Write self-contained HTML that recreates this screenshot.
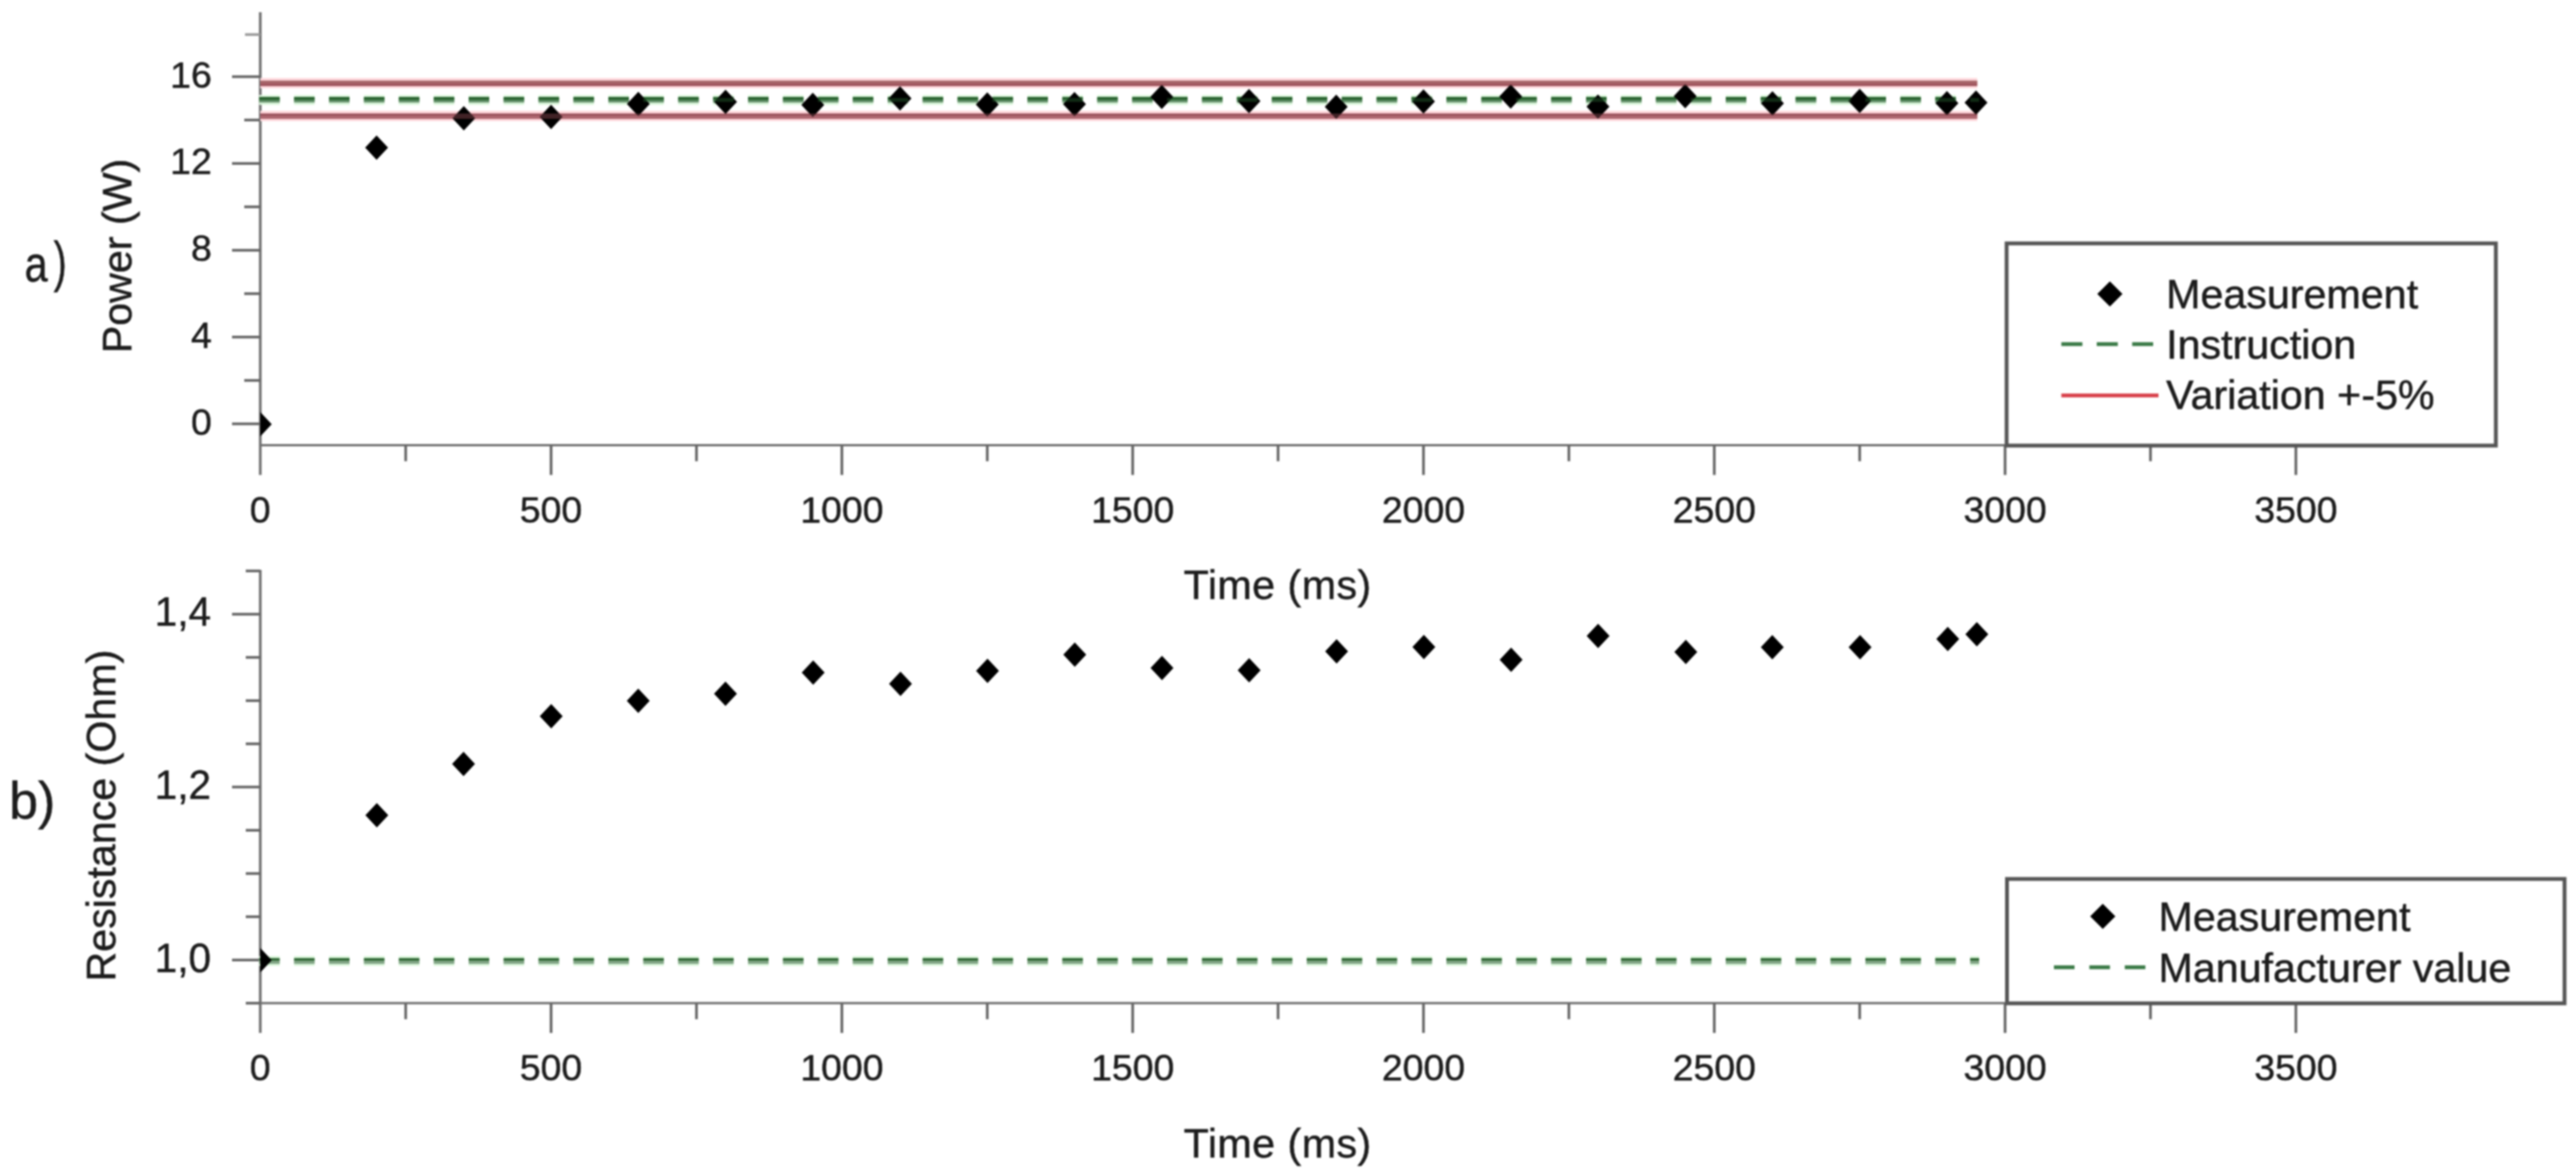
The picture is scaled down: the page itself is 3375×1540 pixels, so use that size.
<!DOCTYPE html><html><head><meta charset="utf-8"><style>html,body{margin:0;padding:0;background:#fff;width:3375px;height:1540px;overflow:hidden}svg{display:block;filter:blur(0.9px)}text{font-family:"Liberation Sans",sans-serif;fill:#1c1c1c;stroke:#1c1c1c;stroke-width:0.6px;paint-order:stroke}</style></head><body>
<svg width="3375" height="1540" viewBox="0 0 3375 1540">
<rect width="3375" height="1540" fill="#fff"/>
<line x1="341.0" y1="583.5" x2="3269" y2="583.5" stroke="#707070" stroke-width="3"/>
<line x1="341.0" y1="16" x2="341.0" y2="622.5" stroke="#707070" stroke-width="3.5"/>
<line x1="531.5" y1="583.5" x2="531.5" y2="604.5" stroke="#656565" stroke-width="3.5"/>
<line x1="722.0" y1="583.5" x2="722.0" y2="622.5" stroke="#656565" stroke-width="3.5"/>
<line x1="912.5" y1="583.5" x2="912.5" y2="604.5" stroke="#656565" stroke-width="3.5"/>
<line x1="1103.0" y1="583.5" x2="1103.0" y2="622.5" stroke="#656565" stroke-width="3.5"/>
<line x1="1293.5" y1="583.5" x2="1293.5" y2="604.5" stroke="#656565" stroke-width="3.5"/>
<line x1="1484.0" y1="583.5" x2="1484.0" y2="622.5" stroke="#656565" stroke-width="3.5"/>
<line x1="1674.5" y1="583.5" x2="1674.5" y2="604.5" stroke="#656565" stroke-width="3.5"/>
<line x1="1865.0" y1="583.5" x2="1865.0" y2="622.5" stroke="#656565" stroke-width="3.5"/>
<line x1="2055.5" y1="583.5" x2="2055.5" y2="604.5" stroke="#656565" stroke-width="3.5"/>
<line x1="2246.0" y1="583.5" x2="2246.0" y2="622.5" stroke="#656565" stroke-width="3.5"/>
<line x1="2436.5" y1="583.5" x2="2436.5" y2="604.5" stroke="#656565" stroke-width="3.5"/>
<line x1="2627.0" y1="583.5" x2="2627.0" y2="622.5" stroke="#656565" stroke-width="3.5"/>
<line x1="2817.5" y1="583.5" x2="2817.5" y2="604.5" stroke="#656565" stroke-width="3.5"/>
<line x1="3008.0" y1="583.5" x2="3008.0" y2="622.5" stroke="#656565" stroke-width="3.5"/>
<line x1="304.0" y1="555.5" x2="341.0" y2="555.5" stroke="#656565" stroke-width="3.5"/>
<line x1="304.0" y1="441.7" x2="341.0" y2="441.7" stroke="#656565" stroke-width="3.5"/>
<line x1="304.0" y1="328.0" x2="341.0" y2="328.0" stroke="#656565" stroke-width="3.5"/>
<line x1="304.0" y1="214.2" x2="341.0" y2="214.2" stroke="#656565" stroke-width="3.5"/>
<line x1="304.0" y1="100.5" x2="341.0" y2="100.5" stroke="#656565" stroke-width="3.5"/>
<line x1="320.0" y1="498.6" x2="341.0" y2="498.6" stroke="#656565" stroke-width="3.5"/>
<line x1="320.0" y1="384.9" x2="341.0" y2="384.9" stroke="#656565" stroke-width="3.5"/>
<line x1="320.0" y1="271.1" x2="341.0" y2="271.1" stroke="#656565" stroke-width="3.5"/>
<line x1="320.0" y1="157.3" x2="341.0" y2="157.3" stroke="#656565" stroke-width="3.5"/>
<text x="341.0" y="685.0" font-size="49" text-anchor="middle">0</text>
<text x="722.0" y="685.0" font-size="49" text-anchor="middle">500</text>
<text x="1103.0" y="685.0" font-size="49" text-anchor="middle">1000</text>
<text x="1484.0" y="685.0" font-size="49" text-anchor="middle">1500</text>
<text x="1865.0" y="685.0" font-size="49" text-anchor="middle">2000</text>
<text x="2246.0" y="685.0" font-size="49" text-anchor="middle">2500</text>
<text x="2627.0" y="685.0" font-size="49" text-anchor="middle">3000</text>
<text x="3008.0" y="685.0" font-size="49" text-anchor="middle">3500</text>
<text x="277.5" y="569.5" font-size="49" text-anchor="end">0</text>
<text x="277.5" y="455.7" font-size="49" text-anchor="end">4</text>
<text x="277.5" y="342.0" font-size="49" text-anchor="end">8</text>
<text x="277.5" y="228.2" font-size="49" text-anchor="end">12</text>
<text x="277.5" y="114.5" font-size="49" text-anchor="end">16</text>
<line x1="341.0" y1="1314.8" x2="3360" y2="1314.8" stroke="#707070" stroke-width="3"/>
<line x1="341.0" y1="747" x2="341.0" y2="1353.8" stroke="#707070" stroke-width="3.5"/>
<line x1="531.5" y1="1314.8" x2="531.5" y2="1335.8" stroke="#656565" stroke-width="3.5"/>
<line x1="722.0" y1="1314.8" x2="722.0" y2="1353.8" stroke="#656565" stroke-width="3.5"/>
<line x1="912.5" y1="1314.8" x2="912.5" y2="1335.8" stroke="#656565" stroke-width="3.5"/>
<line x1="1103.0" y1="1314.8" x2="1103.0" y2="1353.8" stroke="#656565" stroke-width="3.5"/>
<line x1="1293.5" y1="1314.8" x2="1293.5" y2="1335.8" stroke="#656565" stroke-width="3.5"/>
<line x1="1484.0" y1="1314.8" x2="1484.0" y2="1353.8" stroke="#656565" stroke-width="3.5"/>
<line x1="1674.5" y1="1314.8" x2="1674.5" y2="1335.8" stroke="#656565" stroke-width="3.5"/>
<line x1="1865.0" y1="1314.8" x2="1865.0" y2="1353.8" stroke="#656565" stroke-width="3.5"/>
<line x1="2055.5" y1="1314.8" x2="2055.5" y2="1335.8" stroke="#656565" stroke-width="3.5"/>
<line x1="2246.0" y1="1314.8" x2="2246.0" y2="1353.8" stroke="#656565" stroke-width="3.5"/>
<line x1="2436.5" y1="1314.8" x2="2436.5" y2="1335.8" stroke="#656565" stroke-width="3.5"/>
<line x1="2627.0" y1="1314.8" x2="2627.0" y2="1353.8" stroke="#656565" stroke-width="3.5"/>
<line x1="2817.5" y1="1314.8" x2="2817.5" y2="1335.8" stroke="#656565" stroke-width="3.5"/>
<line x1="3008.0" y1="1314.8" x2="3008.0" y2="1353.8" stroke="#656565" stroke-width="3.5"/>
<line x1="304.0" y1="1258.2" x2="341.0" y2="1258.2" stroke="#656565" stroke-width="3.5"/>
<line x1="304.0" y1="1031.6" x2="341.0" y2="1031.6" stroke="#656565" stroke-width="3.5"/>
<line x1="304.0" y1="805.0" x2="341.0" y2="805.0" stroke="#656565" stroke-width="3.5"/>
<line x1="322.0" y1="1314.8" x2="341.0" y2="1314.8" stroke="#656565" stroke-width="3.5"/>
<line x1="322.0" y1="1201.5" x2="341.0" y2="1201.5" stroke="#656565" stroke-width="3.5"/>
<line x1="322.0" y1="1144.9" x2="341.0" y2="1144.9" stroke="#656565" stroke-width="3.5"/>
<line x1="322.0" y1="1088.2" x2="341.0" y2="1088.2" stroke="#656565" stroke-width="3.5"/>
<line x1="322.0" y1="974.9" x2="341.0" y2="974.9" stroke="#656565" stroke-width="3.5"/>
<line x1="322.0" y1="918.3" x2="341.0" y2="918.3" stroke="#656565" stroke-width="3.5"/>
<line x1="322.0" y1="861.6" x2="341.0" y2="861.6" stroke="#656565" stroke-width="3.5"/>
<line x1="322.0" y1="748.3" x2="341.0" y2="748.3" stroke="#656565" stroke-width="3.5"/>
<text x="341.0" y="1416.3" font-size="49" text-anchor="middle">0</text>
<text x="722.0" y="1416.3" font-size="49" text-anchor="middle">500</text>
<text x="1103.0" y="1416.3" font-size="49" text-anchor="middle">1000</text>
<text x="1484.0" y="1416.3" font-size="49" text-anchor="middle">1500</text>
<text x="1865.0" y="1416.3" font-size="49" text-anchor="middle">2000</text>
<text x="2246.0" y="1416.3" font-size="49" text-anchor="middle">2500</text>
<text x="2627.0" y="1416.3" font-size="49" text-anchor="middle">3000</text>
<text x="3008.0" y="1416.3" font-size="49" text-anchor="middle">3500</text>
<text x="276.5" y="1273.5" font-size="53" text-anchor="end">1,0</text>
<text x="276.5" y="1046.9" font-size="53" text-anchor="end">1,2</text>
<text x="276.5" y="820.3" font-size="53" text-anchor="end">1,4</text>
<line x1="321.0" y1="45.3" x2="341.0" y2="45.3" stroke="#9a9a9a" stroke-width="3.5"/>
<defs><clipPath id="cpa"><rect x="341" y="0" width="3034" height="1540"/></clipPath></defs>
<line x1="341" y1="109.05" x2="2590.5" y2="109.05" stroke="#ffd9dd" stroke-width="13.5"/><line x1="341" y1="107.60" x2="2590.5" y2="107.60" stroke="#a86e6c" stroke-width="3.5"/><line x1="341" y1="111.10" x2="2590.5" y2="111.10" stroke="#9b5058" stroke-width="3.5"/>
<line x1="341" y1="152.00" x2="2590.5" y2="152.00" stroke="#ffd9dd" stroke-width="13.5"/><line x1="341" y1="150.55" x2="2590.5" y2="150.55" stroke="#96505a" stroke-width="3.5"/><line x1="341" y1="154.05" x2="2590.5" y2="154.05" stroke="#b46e78" stroke-width="3.5"/>
<line x1="339.5" y1="130.90" x2="2593" y2="130.90" stroke="#dcf7dc" stroke-width="13" stroke-dasharray="27 18.75"/><line x1="339.5" y1="129.00" x2="2593" y2="129.00" stroke="#2d6432" stroke-width="3.8" stroke-dasharray="27 18.75"/><line x1="339.5" y1="132.75" x2="2593" y2="132.75" stroke="#7fa283" stroke-width="3.7" stroke-dasharray="27 18.75"/>
<g clip-path="url(#cpa)"><path d="M341.0 540.0L356.0 556.0L341.0 572.0L326.0 556.0Z" fill="#000"/></g>
<path d="M493.4 177.4L508.4 193.4L493.4 209.4L478.4 193.4Z" fill="#000"/>
<path d="M607.7 139.0L622.7 155.0L607.7 171.0L592.7 155.0Z" fill="#000"/>
<path d="M722.0 137.2L737.0 153.2L722.0 169.2L707.0 153.2Z" fill="#000"/>
<path d="M836.3 120.3L851.3 136.3L836.3 152.3L821.3 136.3Z" fill="#000"/>
<path d="M950.6 117.6L965.6 133.6L950.6 149.6L935.6 133.6Z" fill="#000"/>
<path d="M1064.9 121.4L1079.9 137.4L1064.9 153.4L1049.9 137.4Z" fill="#000"/>
<path d="M1179.2 113.0L1194.2 129.0L1179.2 145.0L1164.2 129.0Z" fill="#000"/>
<path d="M1293.5 121.0L1308.5 137.0L1293.5 153.0L1278.5 137.0Z" fill="#000"/>
<path d="M1407.8 120.5L1422.8 136.5L1407.8 152.5L1392.8 136.5Z" fill="#000"/>
<path d="M1522.1 111.0L1537.1 127.0L1522.1 143.0L1507.1 127.0Z" fill="#000"/>
<path d="M1636.4 116.5L1651.4 132.5L1636.4 148.5L1621.4 132.5Z" fill="#000"/>
<path d="M1750.7 124.0L1765.7 140.0L1750.7 156.0L1735.7 140.0Z" fill="#000"/>
<path d="M1865.0 117.0L1880.0 133.0L1865.0 149.0L1850.0 133.0Z" fill="#000"/>
<path d="M1979.3 110.5L1994.3 126.5L1979.3 142.5L1964.3 126.5Z" fill="#000"/>
<path d="M2093.6 123.7L2108.6 139.7L2093.6 155.7L2078.6 139.7Z" fill="#000"/>
<path d="M2207.9 110.0L2222.9 126.0L2207.9 142.0L2192.9 126.0Z" fill="#000"/>
<path d="M2322.2 119.5L2337.2 135.5L2322.2 151.5L2307.2 135.5Z" fill="#000"/>
<path d="M2436.5 116.3L2451.5 132.3L2436.5 148.3L2421.5 132.3Z" fill="#000"/>
<path d="M2550.8 119.2L2565.8 135.2L2550.8 151.2L2535.8 135.2Z" fill="#000"/>
<path d="M2588.9 118.6L2603.9 134.6L2588.9 150.6L2573.9 134.6Z" fill="#000"/>
<g opacity="0.4"><line x1="341" y1="109.35" x2="2590.5" y2="109.35" stroke="#a2565f" stroke-width="7"/><line x1="341" y1="152.3" x2="2590.5" y2="152.3" stroke="#a2565f" stroke-width="7"/><line x1="339.5" y1="130.9" x2="2593" y2="130.9" stroke="#2a6a34" stroke-width="5" stroke-dasharray="27 18.75"/></g>
<line x1="339.5" y1="1259.50" x2="2593" y2="1259.50" stroke="#dcf7dc" stroke-width="13" stroke-dasharray="27 18.75"/><line x1="339.5" y1="1257.60" x2="2593" y2="1257.60" stroke="#2d6432" stroke-width="3.8" stroke-dasharray="27 18.75"/><line x1="339.5" y1="1261.35" x2="2593" y2="1261.35" stroke="#7fa283" stroke-width="3.7" stroke-dasharray="27 18.75"/>
<g clip-path="url(#cpa)"><path d="M341.0 1242.6L356.0 1258.6L341.0 1274.6L326.0 1258.6Z" fill="#000"/></g>
<path d="M493.7 1052.6L508.7 1068.6L493.7 1084.6L478.7 1068.6Z" fill="#000"/>
<path d="M607.3 985.2L622.3 1001.2L607.3 1017.2L592.3 1001.2Z" fill="#000"/>
<path d="M722.2 922.8L737.2 938.8L722.2 954.8L707.2 938.8Z" fill="#000"/>
<path d="M836.2 902.6L851.2 918.6L836.2 934.6L821.2 918.6Z" fill="#000"/>
<path d="M950.5 893.3L965.5 909.3L950.5 925.3L935.5 909.3Z" fill="#000"/>
<path d="M1065.4 865.4L1080.4 881.4L1065.4 897.4L1050.4 881.4Z" fill="#000"/>
<path d="M1179.8 880.3L1194.8 896.3L1179.8 912.3L1164.8 896.3Z" fill="#000"/>
<path d="M1293.8 863.2L1308.8 879.2L1293.8 895.2L1278.8 879.2Z" fill="#000"/>
<path d="M1408.1 842.1L1423.1 858.1L1408.1 874.1L1393.1 858.1Z" fill="#000"/>
<path d="M1522.4 859.5L1537.4 875.5L1522.4 891.5L1507.4 875.5Z" fill="#000"/>
<path d="M1636.6 862.6L1651.6 878.6L1636.6 894.6L1621.6 878.6Z" fill="#000"/>
<path d="M1751.2 837.7L1766.2 853.7L1751.2 869.7L1736.2 853.7Z" fill="#000"/>
<path d="M1865.5 831.9L1880.5 847.9L1865.5 863.9L1850.5 847.9Z" fill="#000"/>
<path d="M1979.8 848.8L1994.8 864.8L1979.8 880.8L1964.8 864.8Z" fill="#000"/>
<path d="M2093.8 817.4L2108.8 833.4L2093.8 849.4L2078.8 833.4Z" fill="#000"/>
<path d="M2208.7 838.5L2223.7 854.5L2208.7 870.5L2193.7 854.5Z" fill="#000"/>
<path d="M2322.0 832.3L2337.0 848.3L2322.0 864.3L2307.0 848.3Z" fill="#000"/>
<path d="M2437.0 832.3L2452.0 848.3L2437.0 864.3L2422.0 848.3Z" fill="#000"/>
<path d="M2551.9 821.5L2566.9 837.5L2551.9 853.5L2536.9 837.5Z" fill="#000"/>
<path d="M2590.0 815.2L2605.0 831.2L2590.0 847.2L2575.0 831.2Z" fill="#000"/>
<rect x="2629" y="319" width="641" height="265" fill="#fff" stroke="#555555" stroke-width="5"/>
<path d="M2764.3 368.7L2780.8 385.2L2764.3 401.7L2747.8 385.2Z" fill="#000"/>
<line x1="2700.7" y1="451" x2="2821" y2="451" stroke="#3a7a46" stroke-width="5" stroke-dasharray="27.6 18.8"/>
<line x1="2700.7" y1="518.2" x2="2828" y2="518.2" stroke="#d8404a" stroke-width="5"/>
<text x="2838" y="404" font-size="54">Measurement</text>
<text x="2838" y="469.5" font-size="54">Instruction</text>
<text x="2838" y="535.6" font-size="54">Variation +-5%</text>
<rect x="2629.5" y="1152" width="730.5" height="163" fill="#fff" stroke="#555555" stroke-width="5"/>
<path d="M2755.0 1184.6L2771.5 1201.1L2755.0 1217.6L2738.5 1201.1Z" fill="#000"/>
<line x1="2691" y1="1267.7" x2="2813" y2="1267.7" stroke="#3a7a46" stroke-width="5" stroke-dasharray="27 19.4"/>
<text x="2828" y="1219.7" font-size="54">Measurement</text>
<text x="2828" y="1286.9" font-size="54">Manufacturer value</text>
<text x="1552.3" y="784.5" font-size="54" letter-spacing="0.6" dx="-1.5">Time (ms)</text>
<text x="1552.3" y="1517" font-size="54" letter-spacing="0.6" dx="-1.5">Time (ms)</text>
<text transform="translate(172 335.5) rotate(-90)" font-size="54" text-anchor="middle">Power (W)</text>
<text transform="translate(151 1069) rotate(-90)" font-size="54" text-anchor="middle">Resistance (Ohm)</text>
<text transform="translate(34.3 368.7) scale(0.81 1)" font-size="67" x="-2.5">a</text>
<text transform="translate(72.3 383.2) scale(0.72 1)" font-size="72" x="-3" y="-15">)</text>
<text x="12" y="1072.6" font-size="68">b)</text>
</svg></body></html>
